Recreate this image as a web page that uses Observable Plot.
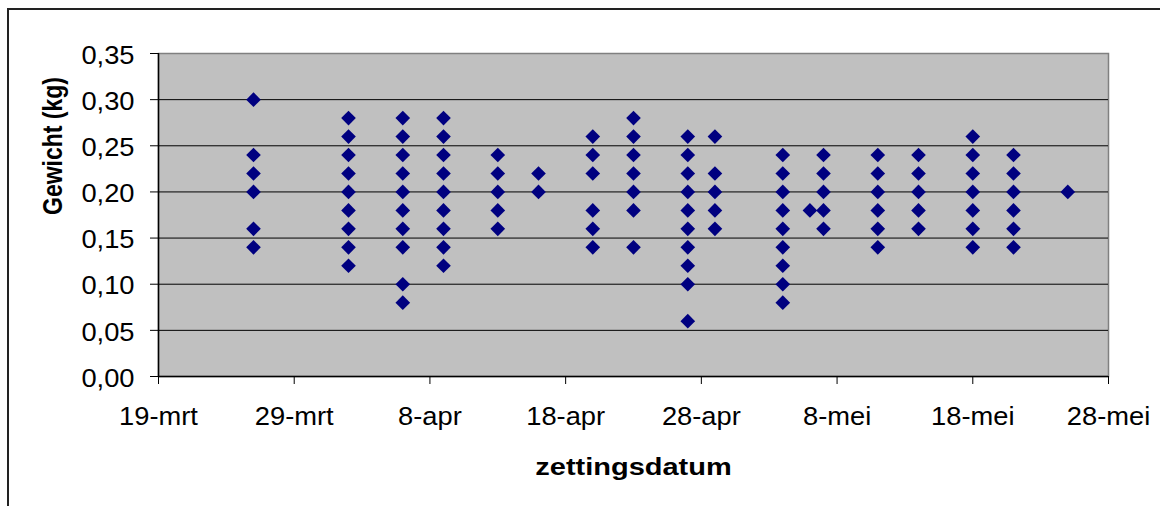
<!DOCTYPE html>
<html><head><meta charset="utf-8">
<script src="https://cdn.jsdelivr.net/npm/d3@7"></script>
<script src="https://cdn.jsdelivr.net/npm/@observablehq/plot@0.6"></script>
<style>
html,body{margin:0;padding:0;background:#fff;overflow:hidden;}
#wrap{position:relative;width:1160px;height:506px;}
#border{position:absolute;left:7px;top:8px;width:1200px;height:600px;border:2px solid #222;box-sizing:border-box;pointer-events:none;}
</style></head><body><div id="wrap"><div id="chart"></div><div id="border"></div></div>
<script>
const dates = ["2006-03-26","2006-04-02","2006-04-06","2006-04-09","2006-04-13","2006-04-16","2006-04-20","2006-04-23","2006-04-27","2006-04-29","2006-05-04","2006-05-06","2006-05-07","2006-05-11","2006-05-14","2006-05-18","2006-05-21","2006-05-25"];
const weights = [
  [0.30,0.24,0.22,0.20,0.16,0.14],
  [0.28,0.26,0.24,0.22,0.20,0.18,0.16,0.14,0.12],
  [0.28,0.26,0.24,0.22,0.20,0.18,0.16,0.14,0.10,0.08],
  [0.28,0.26,0.24,0.22,0.20,0.18,0.16,0.14,0.12],
  [0.24,0.22,0.20,0.18,0.16],
  [0.22,0.20],
  [0.26,0.24,0.22,0.18,0.16,0.14],
  [0.28,0.26,0.24,0.22,0.20,0.18,0.14],
  [0.26,0.24,0.22,0.20,0.18,0.16,0.14,0.12,0.10,0.06],
  [0.26,0.22,0.20,0.18,0.16],
  [0.24,0.22,0.20,0.18,0.16,0.14,0.12,0.10,0.08],
  [0.18],
  [0.24,0.22,0.20,0.18,0.16],
  [0.24,0.22,0.20,0.18,0.16,0.14],
  [0.24,0.22,0.20,0.18,0.16],
  [0.26,0.24,0.22,0.20,0.18,0.16,0.14],
  [0.24,0.22,0.20,0.18,0.16,0.14],
  [0.20]
];
const xTickDates = ["2006-03-19","2006-03-29","2006-04-08","2006-04-18","2006-04-28","2006-05-08","2006-05-18","2006-05-28"];
const xTickLabels = ["19-mrt","29-mrt","8-apr","18-apr","28-apr","8-mei","18-mei","28-mei"];
const yTicks = [0,0.05,0.10,0.15,0.20,0.25,0.30,0.35];
const yTickLabels = ["0,00","0,05","0,10","0,15","0,20","0,25","0,30","0,35"];
const xTitle = "zettingsdatum";
const yTitle = "Gewicht (kg)";

const data = dates.flatMap((d,i)=>weights[i].map(w=>({date:new Date(d), weight:w})));
const xt = xTickDates.map(d=>new Date(d));
const xLab = new Map(xt.map((d,i)=>[+d, xTickLabels[i]]));
const yLab = new Map(yTicks.map((v,i)=>[v, yTickLabels[i]]));

const chart = Plot.plot({
  width:1160, height:506, marginLeft:158, marginRight:52, marginTop:53, marginBottom:130,
  style:{fontFamily:"'Liberation Sans', Arial, sans-serif", fontSize:"25.5px", background:"transparent", color:"#000"},
  x:{type:"utc", domain:[xt[0], xt[xt.length-1]]},
  y:{domain:[0,0.35]},
  marks:[
    Plot.frame({fill:"#c0c0c0", stroke:"#808080", strokeWidth:1.5}),
    Plot.ruleY(yTicks.slice(1,-1), {stroke:"#000", strokeWidth:1}),
    Plot.ruleX([xt[0]], {stroke:"#000", strokeWidth:1.5}),
    Plot.ruleY([0], {stroke:"#000", strokeWidth:1.5}),
    Plot.axisX({ticks: xt, tickFormat: d=>xLab.get(+d), tickSize:8, tickPadding:22, label:null}),
    Plot.axisY({ticks: yTicks, text:null, tickSize:8, label:null}),
    Plot.axisY({ticks: yTicks, tickSize:0, tickPadding:24, dy:2, tickFormat: v=>yLab.get(v), label:null}),
    Plot.dot(data, {x:"date", y:"weight", symbol:"diamond2", r:6.6, fill:"#000080", stroke:"none"}),
    Plot.text([xTitle], {frameAnchor:"bottom", dy:91, text:d=>d, fontWeight:"bold", fontSize:23, lineAnchor:"middle", className:"ttl"}),
    Plot.text([yTitle], {frameAnchor:"left", dx:-105, rotate:-90, text:d=>d, fontWeight:"bold", fontSize:23, lineAnchor:"middle"})
  ]
});
document.getElementById("chart").append(chart);
chart.querySelectorAll("text").forEach(t => {
  const tr = t.getAttribute("transform") || "";
  const isTitle = t.closest(".ttl") != null;
  if (tr.includes("rotate")) {
    t.setAttribute("transform", tr + " scale(1,1.2)");
  } else {
    const S = isTitle ? 1.26 : 1.07;
    const L = t.getComputedTextLength();
    t.setAttribute("textLength", L * S);
    t.setAttribute("lengthAdjust", "spacingAndGlyphs");
  }
});
</script></body></html>
